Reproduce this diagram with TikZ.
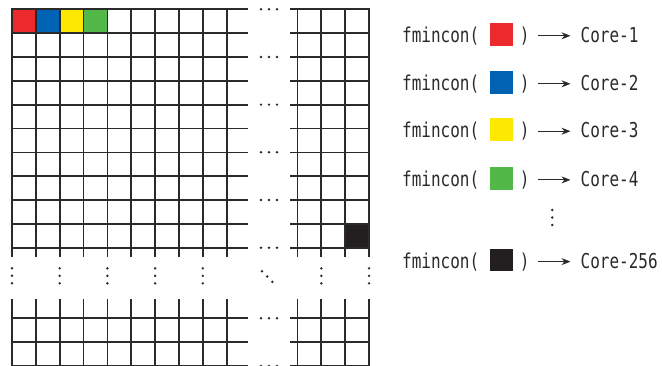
\documentclass[tikz,border=0pt]{standalone}
\usepackage{fontspec}
\usetikzlibrary{arrows.meta}
\newfontfamily\gfont[FakeStretch=0.78]{DejaVu Sans Mono}
\definecolor{cred}{HTML}{EC2A2C}
\definecolor{cblue}{HTML}{0062B2}
\definecolor{cyellow}{HTML}{FCE800}
\definecolor{cgreen}{HTML}{52B848}
\definecolor{cblack}{HTML}{231F20}
\definecolor{ink}{HTML}{2A2A2A}
\begin{document}
\begin{tikzpicture}[x=1pt,y=-1pt,
  gridline/.style={draw=ink,line width=1.75pt},
  dotmark/.style={fill=ink},
  lbl/.style={inner sep=0pt,text=ink,font=\gfont\fontsize{20.5pt}{20.5pt}\selectfont},
  swatch/.style={minimum size=22.7pt,inner sep=0pt,draw=none},
  arr/.style={draw=ink,line width=1pt,-{Stealth[length=9pt,width=7pt]}}]
\useasboundingbox (0,0) rectangle (662,365);
\clip (0,0) rectangle (662,365);
\def\c{23.85}
% coloured cells
\fill[cred]    (12,9.3) rectangle ({12+\c},{9.3+\c});
\fill[cblue]   ({12+\c},9.3) rectangle ({12+2*\c},{9.3+\c});
\fill[cyellow] ({12+2*\c},9.3) rectangle ({12+3*\c},{9.3+\c});
\fill[cgreen]  ({12+3*\c},9.3) rectangle ({12+4*\c},{9.3+\c});
\fill[cblack]  ({297.5+2*\c},{9.3+9*\c}) rectangle ({297.5+3*\c},{9.3+10*\c});
% upper block
\foreach \i in {0,...,9} \draw[gridline] ({12+\i*\c},9.3) -- ({12+\i*\c},257.3);
\foreach \j in {0,...,3} \draw[gridline] ({297.5+\j*\c},9.3) -- ({297.5+\j*\c},257.3);
\foreach \k in {0,...,10} {
  \draw[gridline] (11.2,{9.3+\k*\c}) -- (248,{9.3+\k*\c});
  \draw[gridline] (290,{9.3+\k*\c}) -- ({297.5+3*\c+0.8},{9.3+\k*\c});
}
% lower block
\foreach \i in {0,...,9} \draw[gridline] ({12+\i*\c},299.3) -- ({12+\i*\c},370);
\foreach \j in {0,...,3} \draw[gridline] ({297.5+\j*\c},299.3) -- ({297.5+\j*\c},370);
\foreach \yy in {318.3,342.15,366} {
  \draw[gridline] (11.2,\yy) -- (248,\yy);
  \draw[gridline] (290,\yy) -- ({297.5+3*\c+0.8},\yy);
}
% horizontal ellipses
\foreach \yy in {9.3,56.9,104.6,152.3,200,247.8,318.3,366}
  \foreach \xx in {261,269,277} \fill[dotmark] (\xx,\yy) circle (1.35pt);
% vertical ellipses
\foreach \xx in {12,59.7,107.4,155.1,202.8,321.35,369.05}
  \foreach \yy in {268.3,275.8,283.3} \fill[dotmark] (\xx,\yy) circle (1.35pt);
% diagonal ellipsis
\foreach \xx/\yy in {262/271.2,267.2/276.5,272.4/281.8} \fill[dotmark] (\xx,\yy) circle (1.35pt);
% legend
\foreach \n/\y/\col/\lab in {1/34.2/cred/1,2/82.2/cblue/2,3/129.6/cyellow/3,4/178.3/cgreen/4,5/260/cblack/256} {
  \node[lbl,anchor=base west] (f\n) at (402,{\y+8}) {fmincon(};
  \node[swatch,fill=\col] (s\n) at (501.6,\y) {};
  \node[lbl,anchor=base] (r\n) at (524.7,{\y+8}) {)};
  \coordinate (as\n) at (538,{\y+1.6});
  \coordinate (ae\n) at (570.5,{\y+1.6});
  \draw[arr] (as\n) -- (ae\n);
  \node[lbl,anchor=base west] (c\n) at (580.5,{\y+8}) {Core-\lab};
}
\foreach \yy in {210,217.5,225} \fill[dotmark] (552.3,\yy) circle (1.35pt);
\end{tikzpicture}
\end{document}
